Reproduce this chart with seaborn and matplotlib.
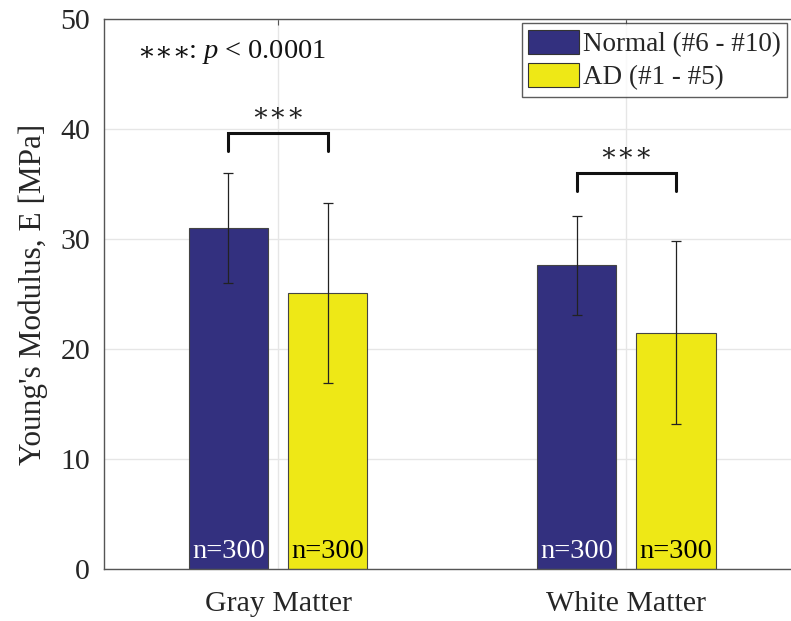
import numpy as np
import matplotlib
matplotlib.use("Agg")
import matplotlib.pyplot as plt
import pandas as pd
import seaborn as sns

regions = ["Gray Matter", "White Matter"]
groups = ["Normal (#6 - #10)", "AD (#1 - #5)"]
means = {"Normal (#6 - #10)": [31.0, 27.6], "AD (#1 - #5)": [25.1, 21.5]}
sds = {"Normal (#6 - #10)": [5.0, 4.5], "AD (#1 - #5)": [8.2, 8.3]}
counts = {"Normal (#6 - #10)": [300, 300], "AD (#1 - #5)": [300, 300]}
sig_labels = ["\u2217\u2217\u2217", "\u2217\u2217\u2217"]
colors = ["#33307f", "#eee816"]

sns.set_style("white")
fam = ["Liberation Serif", "DejaVu Serif"]
plt.rcParams["font.family"] = fam
plt.rcParams["mathtext.fontset"] = "custom"
plt.rcParams["mathtext.it"] = "Liberation Serif:italic"
plt.rcParams["mathtext.rm"] = "Liberation Serif"

df = pd.DataFrame({
    "region": regions * len(groups),
    "group": np.repeat(groups, len(regions)),
    "E": means[groups[0]] + means[groups[1]],
})

fig = plt.figure(figsize=(7.91, 6.21), dpi=100)
ax = fig.add_axes([0.1315, 0.0837, 0.8685, 0.8857])

sns.barplot(data=df, x="region", y="E", hue="group", hue_order=groups,
            palette=colors, saturation=1, width=0.57, gap=0.2,
            edgecolor="#444444", linewidth=0.8, errorbar=None, ax=ax, zorder=2)

# error bars and counts on each bar
for cont, g in zip(ax.containers, groups):
    xs = [p.get_x() + p.get_width() / 2 for p in cont.patches]
    ax.errorbar(xs, means[g], yerr=sds[g], fmt="none", ecolor="#222222",
                elinewidth=0.9, capsize=3.5, capthick=0.9, zorder=3)
    tc = "white" if g == groups[0] else "black"
    for x, n in zip(xs, counts[g]):
        ax.text(x, 0.45, f"n={n}", ha="center", va="bottom", color=tc,
                fontsize=20.5, zorder=4)

# significance brackets
bracket_y = [39.6, 36.0]
for i, (lab, by) in enumerate(zip(sig_labels, bracket_y)):
    p0 = ax.containers[0].patches[i]
    p1 = ax.containers[1].patches[i]
    xa = p0.get_x() + p0.get_width() / 2
    xb = p1.get_x() + p1.get_width() / 2
    ax.plot([xa, xa, xb, xb], [by - 1.6, by, by, by - 1.6], color="#111111",
            lw=2.2, solid_joinstyle="miter", zorder=3)
    ax.text((xa + xb) / 2, by + 1.85, lab, ha="center", va="center",
            fontsize=19, color="#222222", family=["DejaVu Serif"])

ax.text(0.048, 0.94, "\u2217\u2217\u2217", transform=ax.transAxes,
        ha="left", va="center", fontsize=19, color="#111111",
        family=["DejaVu Serif"])
ax.text(0.122, 0.94, r": $p$ < 0.0001", transform=ax.transAxes,
        ha="left", va="center", fontsize=20.5, color="#111111")

ax.set_ylim(0, 50)
ax.set_xlim(-0.5, 1.473)
ax.set_yticks(np.arange(0, 51, 10))
ax.set_xlabel("")
ax.set_ylabel("Young's Modulus, E [MPa]", fontsize=22.5, color="#262626",
              labelpad=9)
ax.tick_params(axis="both", direction="in", labelsize=21.5, colors="#555555",
               labelcolor="#262626", length=4, top=True, width=0.8)
ax.tick_params(axis="x", pad=16)
ax.tick_params(axis="y", pad=10)
ax.grid(True, color="#e6e6e6", lw=1.0, zorder=0)
ax.set_axisbelow(True)
for s in ["left", "bottom", "top"]:
    ax.spines[s].set_color("#555555")
    ax.spines[s].set_linewidth(1.0)
ax.spines["right"].set_visible(False)

leg = ax.legend(loc="upper left", bbox_to_anchor=(0.608, 0.992), fontsize=19.5,
                frameon=True, fancybox=False, edgecolor="#333333",
                handlelength=1.85, handleheight=1.0, handletextpad=0.15,
                borderpad=0.25, labelspacing=0.2, borderaxespad=0)
leg.get_frame().set_linewidth(1.0)
for h in leg.legend_handles:
    h.set_edgecolor("#333333")

fig.savefig("out.png", dpi=100)
